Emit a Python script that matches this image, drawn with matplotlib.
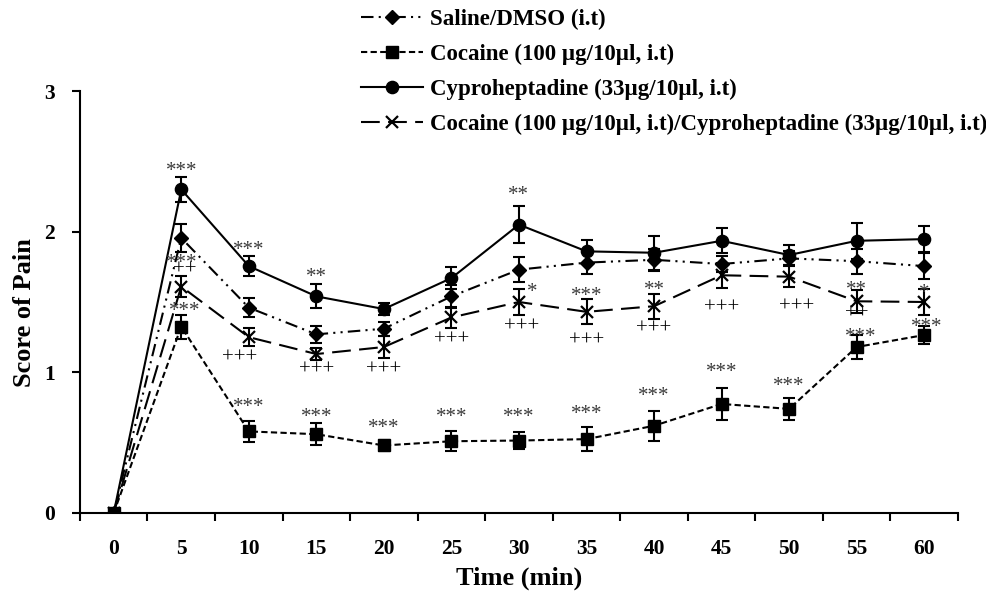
import numpy as np
import matplotlib
matplotlib.use("Agg")
import matplotlib.pyplot as plt

# Data
times = [0, 5, 10, 15, 20, 25, 30, 35, 40, 45, 50, 55, 60]

saline_mean = [0, 1.955, 1.46, 1.27, 1.31, 1.54, 1.73, 1.78, 1.80, 1.77, 1.81, 1.79, 1.755]
saline_sem = [0, 0.10, 0.07, 0.06, 0.05, 0.08, 0.09, 0.08, 0.08, 0.06, 0.05, 0.09, 0.09]

cocaine_mean = [0, 1.325, 0.58, 0.56, 0.48, 0.51, 0.515, 0.525, 0.62, 0.775, 0.74, 1.18, 1.265]
cocaine_sem = [0, 0.085, 0.075, 0.08, 0.04, 0.07, 0.063, 0.083, 0.107, 0.116, 0.08, 0.085, 0.062]

cypro_mean = [0, 2.30, 1.755, 1.54, 1.45, 1.67, 2.05, 1.86, 1.85, 1.935, 1.834, 1.935, 1.947]
cypro_sem = [0, 0.09, 0.07, 0.085, 0.04, 0.08, 0.13, 0.08, 0.12, 0.09, 0.07, 0.13, 0.09]

combo_mean = [0, 1.61, 1.25, 1.13, 1.18, 1.39, 1.50, 1.43, 1.47, 1.69, 1.68, 1.505, 1.50]
combo_sem = [0, 0.077, 0.063, 0.04, 0.075, 0.077, 0.09, 0.09, 0.088, 0.09, 0.075, 0.083, 0.095]

labels = [
    "Saline/DMSO (i.t)",
    "Cocaine (100 µg/10µl, i.t)",
    "Cyproheptadine (33µg/10µl, i.t)",
    "Cocaine (100 µg/10µl, i.t)/Cyproheptadine (33µg/10µl, i.t)",
]

# significance marks: (time, text, dy px from mean to glyph centre, dx px)
cypro_marks = [(5, "***", 23, 0), (10, "***", 21, 0), (15, "**", 24, 0), (30, "**", 34, 0)]
cocaine_marks = [(5, "***", 20, 3), (10, "***", 29, 0), (15, "***", 22, 0), (20, "***", 22, 0),
                 (25, "***", 29, 0), (30, "***", 28, 0), (35, "***", 30, 0), (40, "***", 35, 0),
                 (45, "***", 37, 0), (50, "***", 28, 0), (55, "***", 15, 4), (60, "***", 13, 3)]
combo_marks = [(5, "***", 28, 0), (30, "*", 15, 13), (35, "***", 21, 0), (40, "**", 21, 0),
               (55, "**", 16, 0), (60, "*", 14, 0)]
combo_plus = [(5, "++", 17, 3), (10, "+++", -20, -9), (15, "+++", -15, 0), (20, "+++", -22, 0),
              (25, "+++", -22, 0), (30, "+++", -24, 3), (35, "+++", -29, 0), (40, "+++", -22, 0),
              (45, "+++", -32, 0), (50, "+++", -30, 7), (55, "++", -12, 0)]

plt.rcParams['font.family'] = ['Liberation Serif', 'DejaVu Serif']

DPI = 100
PX = 72.0 / DPI  # points per pixel
fig = plt.figure(figsize=(9.87, 5.94), dpi=DPI)
ax = fig.add_axes([0.081, 0.1364, 0.8896, 0.7104])

x = np.arange(len(times))

series = [
    (saline_mean, saline_sem, dict(marker='D', markersize=7, linestyle=(0, (6, 2.5, 1, 2.5, 1, 2.5)))),
    (cocaine_mean, cocaine_sem, dict(marker='s', markersize=8.5, linestyle=(0, (3, 1.6)))),
    (cypro_mean, cypro_sem, dict(marker='o', markersize=8.8, linestyle='-')),
    (combo_mean, combo_sem, dict(marker='x', markersize=8.5, markeredgewidth=1.6, linestyle=(0, (9, 4)))),
]

for (m, s, style), lab in zip(series, labels):
    ax.errorbar(x, m, yerr=s, fmt='none', ecolor='black', elinewidth=1.5,
                capsize=4.5, capthick=1.5, zorder=2)
    ax.plot(x, m, color='black', linewidth=1.5, label=lab, zorder=3, **style)


def put_marks(marks, mean, size, color):
    for t, txt, dy, dx in marks:
        i = times.index(t)
        # shift so that the visible glyph centre sits dy px from the mean
        em = size / PX
        ink = 0.47 * em if '*' in txt else 0.25 * em
        ax.annotate(txt, xy=(i, mean[i]), xytext=(dx * PX, (dy - ink) * PX),
                    textcoords='offset points', ha='center', va='baseline',
                    fontsize=size, color=color, zorder=4)


put_marks(cypro_marks, cypro_mean, 15, '#3a3a3a')
put_marks(cocaine_marks, cocaine_mean, 15, '#3a3a3a')
put_marks(combo_marks, combo_mean, 15, '#3a3a3a')
put_marks(combo_plus, combo_mean, 15, 'black')

ax.set_xlim(-0.5, len(times) - 0.5)
ax.set_ylim(0, 3)
ax.set_yticks([0, 1, 2, 3])
ax.set_xticks(x)
ax.set_xticklabels([str(t) for t in times])
ax.set_xticks(np.arange(-0.5, len(times)), minor=True)
ax.tick_params(axis='x', which='major', length=0, pad=19, labelsize=15.5)
ax.tick_params(axis='x', which='minor', length=6, width=1.5, direction='out')
ax.tick_params(axis='y', length=6, width=1.5, direction='out', pad=12, labelsize=15.5)
for lab in ax.get_xticklabels() + ax.get_yticklabels():
    lab.set_fontweight('bold')

for side in ['top', 'right']:
    ax.spines[side].set_visible(False)
for side in ['left', 'bottom']:
    ax.spines[side].set_linewidth(1.5)

ax.set_xlabel("Time (min)", fontsize=19, fontweight='bold')
ax.set_ylabel("Score of Pain", fontsize=19, fontweight='bold')
ax.xaxis.set_label_coords(0.5, -0.128)
ax.yaxis.set_label_coords(-0.05, 0.474)

leg = fig.legend(loc='upper left', bbox_to_anchor=(0.3658, 0.985), frameon=False,
                 prop={'weight': 'bold', 'size': 16.5}, handlelength=2.7,
                 handletextpad=0.3, labelspacing=0.6, borderpad=0, borderaxespad=0)

fig.savefig("out.png", dpi=DPI)
